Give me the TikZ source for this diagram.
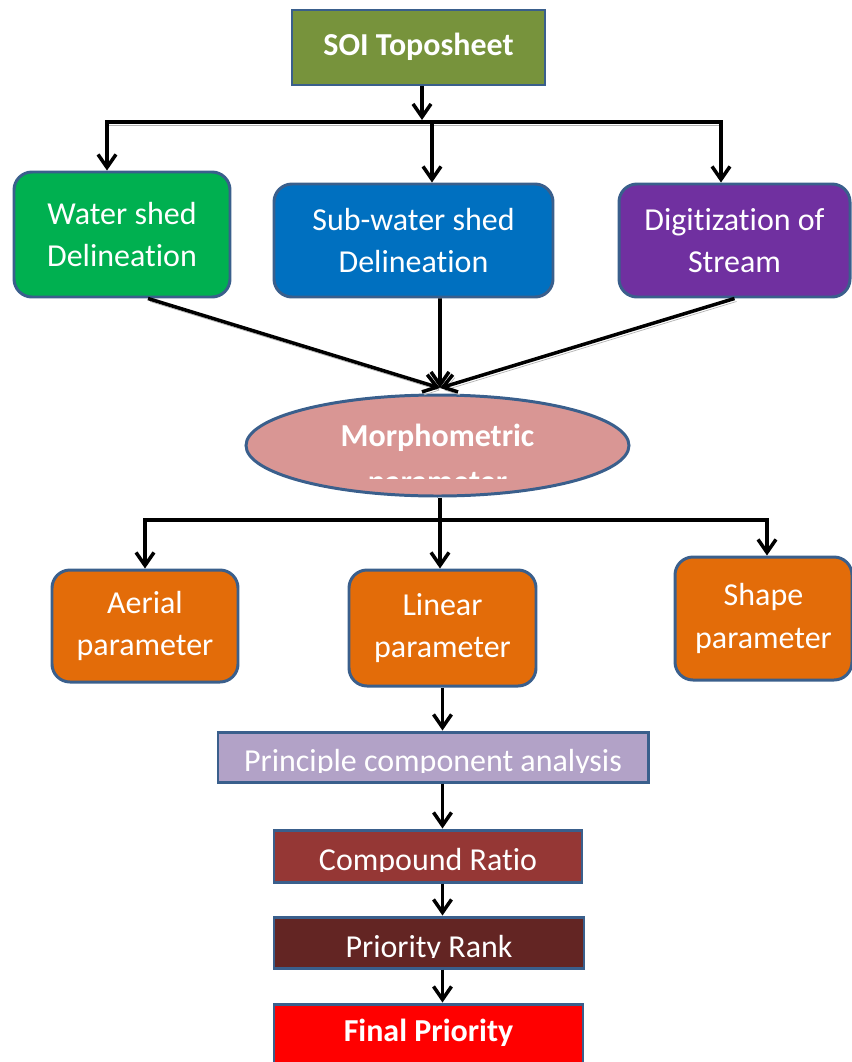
\documentclass[tikz,border=0pt]{standalone}
\usepackage{fontspec}
\setmainfont{Carlito}[Ligatures={NoCommon,NoRequired,NoContextual,NoRare}, RawFeature={-liga;-clig;-calt;-dlig;-rlig}]
\usepackage{tikz}
\usetikzlibrary{arrows.meta,calc,positioning,shapes.geometric}
\definecolor{outlineblue}{HTML}{3A5F8C}
\definecolor{soiolive}{HTML}{77933C}
\definecolor{shedgreen}{HTML}{00B050}
\definecolor{subshedblue}{HTML}{0070C0}
\definecolor{streampurple}{HTML}{7030A0}
\definecolor{morphpink}{HTML}{D99694}
\definecolor{paramorange}{HTML}{E36C09}
\definecolor{pcalilac}{HTML}{B2A2C7}
\definecolor{ratiobrown}{HTML}{953735}
\definecolor{rankbrown}{HTML}{632523}
\definecolor{finalred}{HTML}{FF0000}

\begin{document}
\begin{tikzpicture}[
  >={Straight Barb[length=2.6mm, width=3.6mm]},
  font=\fontsize{18.2}{24}\selectfont,
  boldtext/.style={font=\fontsize{18.2}{24}\selectfont\bfseries},
  box/.style={draw=outlineblue, line width=1.7pt, text=white, align=center, inner sep=0pt},
  roundbox/.style={box, rounded corners=0.36cm},
  flatbox/.style={box},
  boxtext/.style={text=white, anchor=base, inner sep=0pt},
  arrow/.style={->, line width=2pt},
  bar/.style={line width=2.8pt, line cap=rect},
  thinbar/.style={line width=2.3pt, line cap=rect},
  shadowed/.style={preaction={draw=black!30, transform canvas={shift={(0.04cm,-0.06cm)}}}}
]
\useasboundingbox (0,0) rectangle (17.04,-21.24);
\clip (0,0) rectangle (17.04,-21.24);

\node[flatbox, boldtext, fill=soiolive, minimum width=5.06cm, minimum height=1.50cm, text depth=0.35em] (soi) at (8.37,-0.95) {SOI Toposheet};

\node[roundbox, fill=shedgreen, minimum width=4.32cm, minimum height=2.50cm] (water) at (2.44,-4.69) {Water shed\\Delineation};
\node[roundbox, fill=subshedblue, minimum width=5.58cm, minimum height=2.26cm] (subwater) at (8.27,-4.81) {Sub-water shed\\Delineation};
\node[roundbox, fill=streampurple, minimum width=4.62cm, minimum height=2.26cm] (digit) at (14.69,-4.81) {Digitization of\\Stream};

\coordinate (topjoin) at (8.44,-2.44);
\coordinate (topleft) at (2.14,-2.44);
\coordinate (topmid) at (8.64,-2.44);
\coordinate (topright) at (14.42,-2.44);
\draw[arrow] (soi.south -| topjoin) -- ([yshift=0.04cm]topjoin);
\draw[bar, shadowed] (topleft) -- (topright);
\draw[arrow] (topleft) -- (topleft |- water.north);
\draw[arrow] (topmid) -- (topmid |- subwater.north);
\draw[arrow] (topright) -- (topright |- digit.north);

\node[ellipse, draw=outlineblue, line width=1.7pt, fill=morphpink, minimum width=7.66cm, minimum height=2.02cm, inner sep=0pt] (morph) at (8.75,-8.91) {};
\node[boxtext, boldtext] (morphtitle) at ([yshift=-0.02cm]morph.center) {Morphometric};
\begin{scope}
  \clip ([yshift=-0.40cm]morph.west) rectangle ([yshift=-0.66cm]morph.east);
  \node[boxtext, boldtext] (morphsub) at ([yshift=-0.93cm]morph.center) {parameter};
\end{scope}

\coordinate (meet) at (8.80,-7.76);
\draw[arrow, shadowed] ([xshift=0.52cm]water.south) -- (meet);
\draw[arrow] ([xshift=0.53cm]subwater.south) -- (meet);
\draw[arrow, shadowed] (digit.south) -- (meet);

\node[roundbox, fill=paramorange, minimum width=3.72cm, minimum height=2.24cm] (aerial) at (2.90,-12.52) {Aerial\\parameter};
\node[roundbox, fill=paramorange, minimum width=3.74cm, minimum height=2.32cm] (linear) at (8.85,-12.56) {Linear\\parameter};
\node[roundbox, fill=paramorange, minimum width=3.54cm, minimum height=2.46cm] (shape) at (15.27,-12.37) {Shape\\parameter};

\coordinate (midjoin) at (8.80,-10.40);
\coordinate (midleft) at (2.90,-10.40);
\coordinate (midright) at (15.34,-10.40);
\draw[line width=2pt] (morph.south -| midjoin) -- (midjoin);
\draw[thinbar] (midleft) -- (midright);
\draw[arrow] (midleft) -- (midleft |- aerial.north);
\draw[arrow] (midjoin) -- (midjoin |- linear.north);
\draw[arrow] (midright) -- (midright |- shape.north);

\node[flatbox, fill=pcalilac, minimum width=8.60cm, minimum height=1.00cm] (pca) at (8.66,-15.14) {};
\begin{scope}
  \clip ([yshift=0.1cm]pca.north west) rectangle ([yshift=-0.30cm]pca.east);
  \node[boxtext] (pcatext) at ([yshift=-0.28cm]pca.center) {Principle component analysis};
\end{scope}

\node[flatbox, fill=ratiobrown, minimum width=6.16cm, minimum height=1.04cm] (compound) at (8.56,-17.12) {};
\begin{scope}
  \clip ([yshift=0.1cm]compound.north west) rectangle ([yshift=-0.30cm]compound.east);
  \node[boxtext] (compoundtext) at ([yshift=-0.28cm]compound.center) {Compound Ratio};
\end{scope}

\node[flatbox, fill=rankbrown, minimum width=6.20cm, minimum height=1.02cm] (rank) at (8.58,-18.85) {};
\begin{scope}
  \clip ([yshift=0.1cm]rank.north west) rectangle ([yshift=-0.30cm]rank.east);
  \node[boxtext] (ranktext) at ([yshift=-0.29cm]rank.center) {Priority Rank};
\end{scope}

\node[flatbox, fill=finalred, minimum width=6.18cm, minimum height=1.42cm] (final) at (8.57,-20.79) {};
\node[boxtext, boldtext] (finaltext) at ([yshift=-0.78cm]final.north) {Final Priority};

\draw[arrow] (linear.south) -- (linear.south |- pca.north);
\draw[arrow] (pca.south -| linear.south) -- (compound.north -| linear.south);
\draw[arrow] (compound.south -| linear.south) -- (rank.north -| linear.south);
\draw[arrow] (rank.south -| linear.south) -- (final.north -| linear.south);
\end{tikzpicture}
\end{document}
